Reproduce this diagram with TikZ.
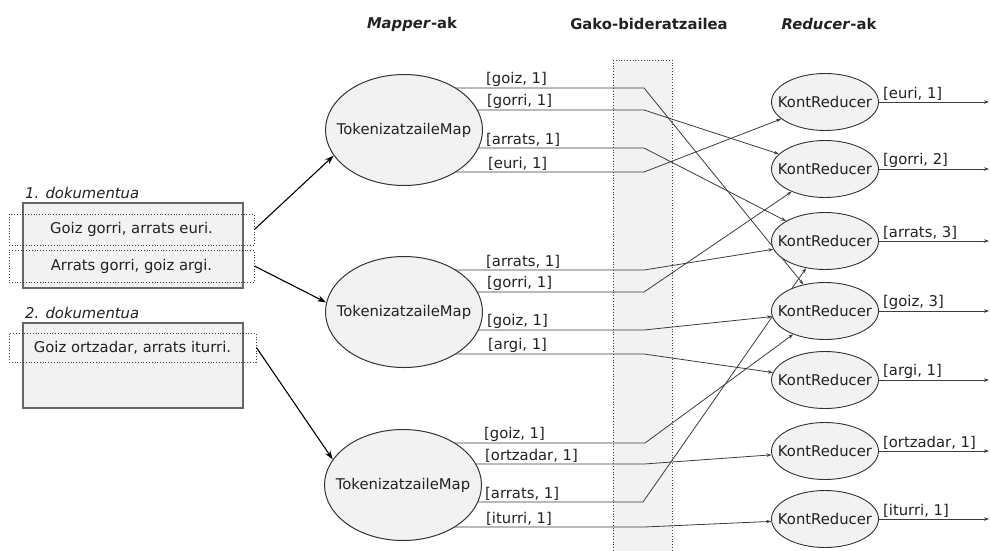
\documentclass[tikz,border=0pt]{standalone}
\usepackage{fontspec}
\setmainfont{DejaVu Sans}
\usetikzlibrary{arrows.meta,calc,shapes.geometric}
\pgfdeclarelayer{back}
\pgfdeclarelayer{mid}
\pgfsetlayers{back,mid,main}
\definecolor{boxfill}{HTML}{F2F2F2}
\definecolor{edgecol}{HTML}{333333}
\definecolor{conncol}{HTML}{3C3C3C}
\definecolor{textcol}{HTML}{222222}
\newcommand\dfs{\fontsize{14.8}{17}\selectfont}
\tikzset{
  txt/.style={font=\dfs, inner sep=1pt, text=textcol},
  hdr/.style={font=\dfs\bfseries, inner sep=1pt, text=textcol},
  mapper/.style={ellipse, draw=edgecol, fill=boxfill, line width=1pt,
    minimum width=157pt, minimum height=111pt, inner sep=0pt,
    label={[txt]center:TokenizatzaileMap}},
  reducer/.style={ellipse, draw=edgecol, fill=boxfill, line width=0.9pt,
    minimum width=107pt, minimum height=57pt, inner sep=0pt,
    label={[txt]center:KontReducer}},
  docbox/.style={draw=black!60, line width=1.4pt, fill=boxfill,
    minimum width=220pt, minimum height=85pt, inner sep=0pt},
  sentbox/.style={draw=black!75, dotted, line width=0.8pt, inner sep=0pt, font=\dfs, text=textcol},
  conn/.style={draw=conncol, line width=0.8pt, -{Stealth[length=5pt,width=3.5pt]}},
  docarrow/.style={draw=black, line width=1.1pt, -{Stealth[length=9pt,width=6pt]}},
  lbl/.style={font=\dfs, inner sep=1pt, anchor=south west, text=textcol},
}
\begin{document}
\begin{tikzpicture}[x=1pt,y=-1pt]
\useasboundingbox (0,0) rectangle (990,550);

% headers
\node[hdr] (h1) at (412,24) {\textit{Mapper}-ak};
\node[hdr] (h2) at (649,24) {Gako-bideratzailea};
\node[hdr] (h3) at (829,24) {\textit{Reducer}-ak};

% shuffle column
\begin{pgfonlayer}{back}
\draw[dotted, draw=black!75, line width=0.8pt, fill=boxfill] (613,60) rectangle (672,560);
\end{pgfonlayer}

% documents
\node[txt, font=\dfs\itshape, anchor=west] (t1) at (24,193) {1. dokumentua};
\node[docbox] (d1) at (133,245.5) {};
\node[sentbox, minimum width=245pt, minimum height=31pt] (s1) at (131.5,229.5) {Goiz gorri, arrats euri.};
\node[sentbox, minimum width=245pt, minimum height=32pt] (s2) at (131.5,266) {Arrats gorri, goiz argi.};

\node[txt, font=\dfs\itshape, anchor=west] (t2) at (24,313) {2. dokumentua};
\node[docbox] (d2) at (133,365.5) {};
\node[sentbox, minimum width=247pt, minimum height=29pt] (s3) at (132.5,347.5) {Goiz ortzadar, arrats iturri.};

% mappers
\node[mapper] (M1) at (404,130) {};
\node[mapper] (M2) at (404,312) {};
\node[mapper] (M3) at (403,485) {};

% reducers
\node[reducer] (R1) at (825,102) {};
\node[reducer] (R2) at (825,169) {};
\node[reducer] (R3) at (825,241) {};
\node[reducer] (R4) at (825,311) {};
\node[reducer] (R5) at (825,380) {};
\node[reducer] (R6) at (825,451) {};
\node[reducer] (R7) at (825,519) {};

% document -> mapper arrows
\draw[docarrow] (s1.east) -- (M1.200);
\draw[docarrow] (s2.east) -- (M2.173);
\draw[docarrow] (s3.east) -- (M3.160);

% mapper outputs
\begin{pgfonlayer}{mid}
\draw[conn] ($(M1)+(0,-42)$) -- (644,88) -- (R4);
\draw[conn] ($(M1)+(0,-20)$) -- (644,110) -- (R2);
\draw[conn] ($(M1)+(0,18)$) -- (644,148) -- (R3);
\draw[conn] ($(M1)+(0,42)$) -- (644,172) -- (R1);

\draw[conn] ($(M2)+(0,-42)$) -- (644,270) -- (R3);
\draw[conn] ($(M2)+(0,-20)$) -- (644,292) -- (R2);
\draw[conn] ($(M2)+(0,18)$) -- (644,330) -- (R4);
\draw[conn] ($(M2)+(0,42)$) -- (644,354) -- (R5);

\draw[conn] ($(M3)+(0,-42)$) -- (645,443) -- (R4);
\draw[conn] ($(M3)+(0,-21)$) -- (644,464) -- (R6);
\draw[conn] ($(M3)+(0,17)$) -- (643,502) -- (R3);
\draw[conn] ($(M3)+(0,42)$) -- (644,527) -- (R7);
\end{pgfonlayer}

% mapper output labels
\node[lbl] at (485,88) {[goiz, 1]};
\node[lbl] at (486,110) {[gorri, 1]};
\node[lbl] at (485,148) {[arrats, 1]};
\node[lbl] at (487,172) {[euri, 1]};

\node[lbl] at (485,270) {[arrats, 1]};
\node[lbl] at (486,292) {[gorri, 1]};
\node[lbl] at (486,330) {[goiz, 1]};
\node[lbl] at (487,354) {[argi, 1]};

\node[lbl] at (483,443) {[goiz, 1]};
\node[lbl] at (484,464) {[ortzadar, 1]};
\node[lbl] at (484,502) {[arrats, 1]};
\node[lbl] at (485,527) {[iturri, 1]};

% reducer outputs
\foreach \r/\t in {R1/{[euri, 1]},R2/{[gorri, 2]},R3/{[arrats, 3]},R4/{[goiz, 3]},R5/{[argi, 1]},R6/{[ortzadar, 1]},R7/{[iturri, 1]}}{
  \draw[conn] (\r.east) -- ++(110,0);
  \node[lbl] at ($(\r.east)+(3,0)$) {\t};
}
\end{tikzpicture}
\end{document}
